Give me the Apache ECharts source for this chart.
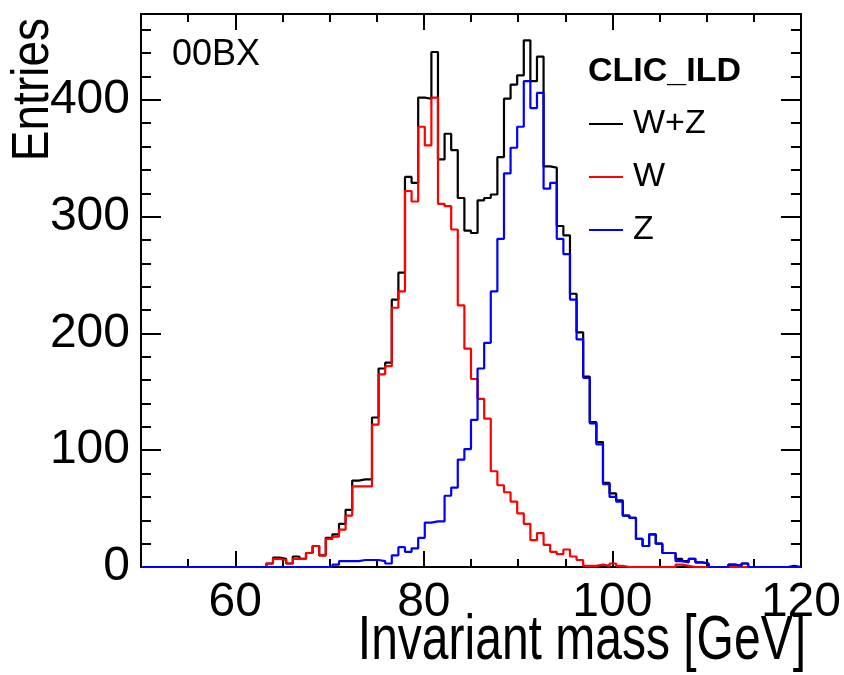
<!DOCTYPE html>
<html>
<head>
<meta charset="utf-8">
<script src="https://cdn.jsdelivr.net/npm/echarts@6/dist/echarts.min.js"></script>
<style>
html,body{margin:0;padding:0;background:#fff;}
#chart{width:844px;height:675px;}
</style>
</head>
<body>
<div id="chart"></div>
<script>
// Histogram binning (100 bins from 50 to 120 GeV)
const BIN_START = 50;
const BIN_WIDTH = 0.7;

// Entries per bin
const W = [0,0,0,0,0,0,0,0,0,0,0,0,0,0,0,0,0,0,0,
  3,7,6,3,7,7,12,18,10,24,26,32,44,69,69,69,122,165,172,222,236,322,313,377,361,402,311,309,289,224,187,161,144,127,82,70,64,56,46,37,23,29,19,13,11,15,9,6,1,1,2,1,3,1,
  0,0,0,0,0,0,0,0,2,1,
  0,0,0,0,0,0,0,0,0,0,0,0,0,0,0,0,0];
const Z = [0,0,0,0,0,0,0,0,0,0,0,0,0,0,0,0,0,0,0,0,0,0,0,0,0,0,0,0,0,
  2,5,5,5,6,6,6,5,3,10,17,13,16,25,38,39,39,61,68,92,101,126,170,192,236,281,337,359,377,416,393,406,324,329,281,268,229,195,162,123,105,71,60,56,44,42,24,18,28,20,12,12,5,4,7,4,3,0,0,0,2,1,3,
  0,0,0,0,0,0,0,0];
const WZ = [0,0,0,0,0,0,0,0,0,0,0,0,0,0,0,0,0,0,0,
  3,8,7,3,9,7,12,18,10,25,28,37,49,74,75,75,128,170,175,229,252,334,329,402,401,441,349,371,357,316,288,286,314,316,319,351,401,413,421,451,416,437,343,342,292,284,234,201,163,124,107,72,63,57,44,42,24,18,28,20,12,12,7,5,7,4,3,0,0,0,2,1,3,
  0,0,0,0,0,0,1,0];

const X_MIN = 50, X_MAX = 120;
const Y_MIN = 0, Y_MAX = 473.55;
const X_MAJOR = [60, 80, 100, 120];
const X_MINOR = [55, 65, 70, 75, 85, 90, 95, 105, 110, 115];
const Y_MAJOR = [0, 100, 200, 300, 400];
const Y_MINOR = [20, 40, 60, 80, 120, 140, 160, 180, 220, 240, 260, 280, 320, 340, 360, 380, 420, 440, 460];

const SERIES_NAMES = ['W+Z', 'W', 'Z'];
const SERIES_COLORS = ['#000000', '#ff0000', '#0000ff'];

function stepData(vals) {
  const d = vals.map((v, k) => [BIN_START + BIN_WIDTH * k, v]);
  d.push([BIN_START + BIN_WIDTH * vals.length, vals[vals.length - 1]]);
  return d;
}

const AX_FONT = "'Liberation Sans', Arial, sans-serif";

function xAx(pos, ticks, len, labels) {
  return {
    type: 'value', position: pos, min: X_MIN, max: X_MAX,
    axisLine: { show: true, onZero: false, lineStyle: { color: '#000', width: 2 } },
    axisTick: { show: true, inside: true, length: len, customValues: ticks, lineStyle: { color: '#000', width: 2 } },
    axisLabel: labels ? { show: true, customValues: ticks, color: '#000', fontSize: 48, fontFamily: AX_FONT, margin: 12 } : { show: false },
    splitLine: { show: false }
  };
}
function yAx(pos, ticks, len, labels) {
  return {
    type: 'value', position: pos, min: Y_MIN, max: Y_MAX,
    axisLine: { show: true, onZero: false, lineStyle: { color: '#000', width: 2 } },
    axisTick: { show: true, inside: true, length: len, customValues: ticks, lineStyle: { color: '#000', width: 2 } },
    axisLabel: labels ? { show: true, customValues: ticks, color: '#000', fontSize: 48, fontFamily: AX_FONT, margin: 11 } : { show: false },
    splitLine: { show: false }
  };
}

const chart = echarts.init(document.getElementById('chart'), null, { renderer: 'canvas' });

const series = [WZ, W, Z].map((vals, i) => ({
  name: SERIES_NAMES[i],
  type: 'line',
  step: 'end',
  xAxisIndex: 0, yAxisIndex: 0,
  data: stepData(vals),
  symbol: 'none',
  lineStyle: { color: SERIES_COLORS[i], width: 2.2 },
  itemStyle: { color: SERIES_COLORS[i] },
  animation: false,
  z: 2 + i
}));

chart.setOption({
  animation: false,
  backgroundColor: '#ffffff',
  grid: { left: 141, right: 38, top: 14, bottom: 108, containLabel: false },
  xAxis: [
    xAx('bottom', X_MAJOR, 16, true),
    xAx('bottom', X_MINOR, 8, false),
    xAx('top', X_MAJOR, 16, false),
    xAx('top', X_MINOR, 8, false)
  ],
  yAxis: [
    yAx('left', Y_MAJOR, 20, true),
    yAx('left', Y_MINOR, 10, false),
    yAx('right', Y_MAJOR, 20, false),
    yAx('right', Y_MINOR, 10, false)
  ],
  legend: {
    show: true,
    orient: 'vertical',
    left: 589, top: 104,
    padding: 0,
    itemWidth: 34, itemHeight: 2,
    itemGap: 13,
    icon: 'rect',
    data: SERIES_NAMES,
    textStyle: { color: '#000', fontSize: 34, fontFamily: "'Liberation Sans', Arial, sans-serif", lineHeight: 40, padding: [0, 0, 0, 5] },
    selectedMode: false
  },
  graphic: [
    { type: 'text', x: 34, y: 18, rotation: Math.PI / 2, scaleY: 1.12,
      style: { text: 'Entries', fill: '#000', font: "46px 'Liberation Sans', Arial, sans-serif", align: 'right', verticalAlign: 'middle' } },
    { type: 'text', x: 806, y: 611, scaleY: 1.3,
      style: { text: 'Invariant mass [GeV]', fill: '#000', font: "48px 'Liberation Sans', Arial, sans-serif", align: 'right', verticalAlign: 'top' } },
    { type: 'text', x: 172, y: 37,
      style: { text: '00BX', fill: '#000', font: "36px 'Liberation Sans', Arial, sans-serif", align: 'left', verticalAlign: 'top' } },
    { type: 'text', x: 588, y: 55,
      style: { text: 'CLIC_ILD', fill: '#000', font: "bold 34px 'Liberation Sans', Arial, sans-serif", align: 'left', verticalAlign: 'top' } }
  ],
  series: series
});
</script>
</body>
</html>
